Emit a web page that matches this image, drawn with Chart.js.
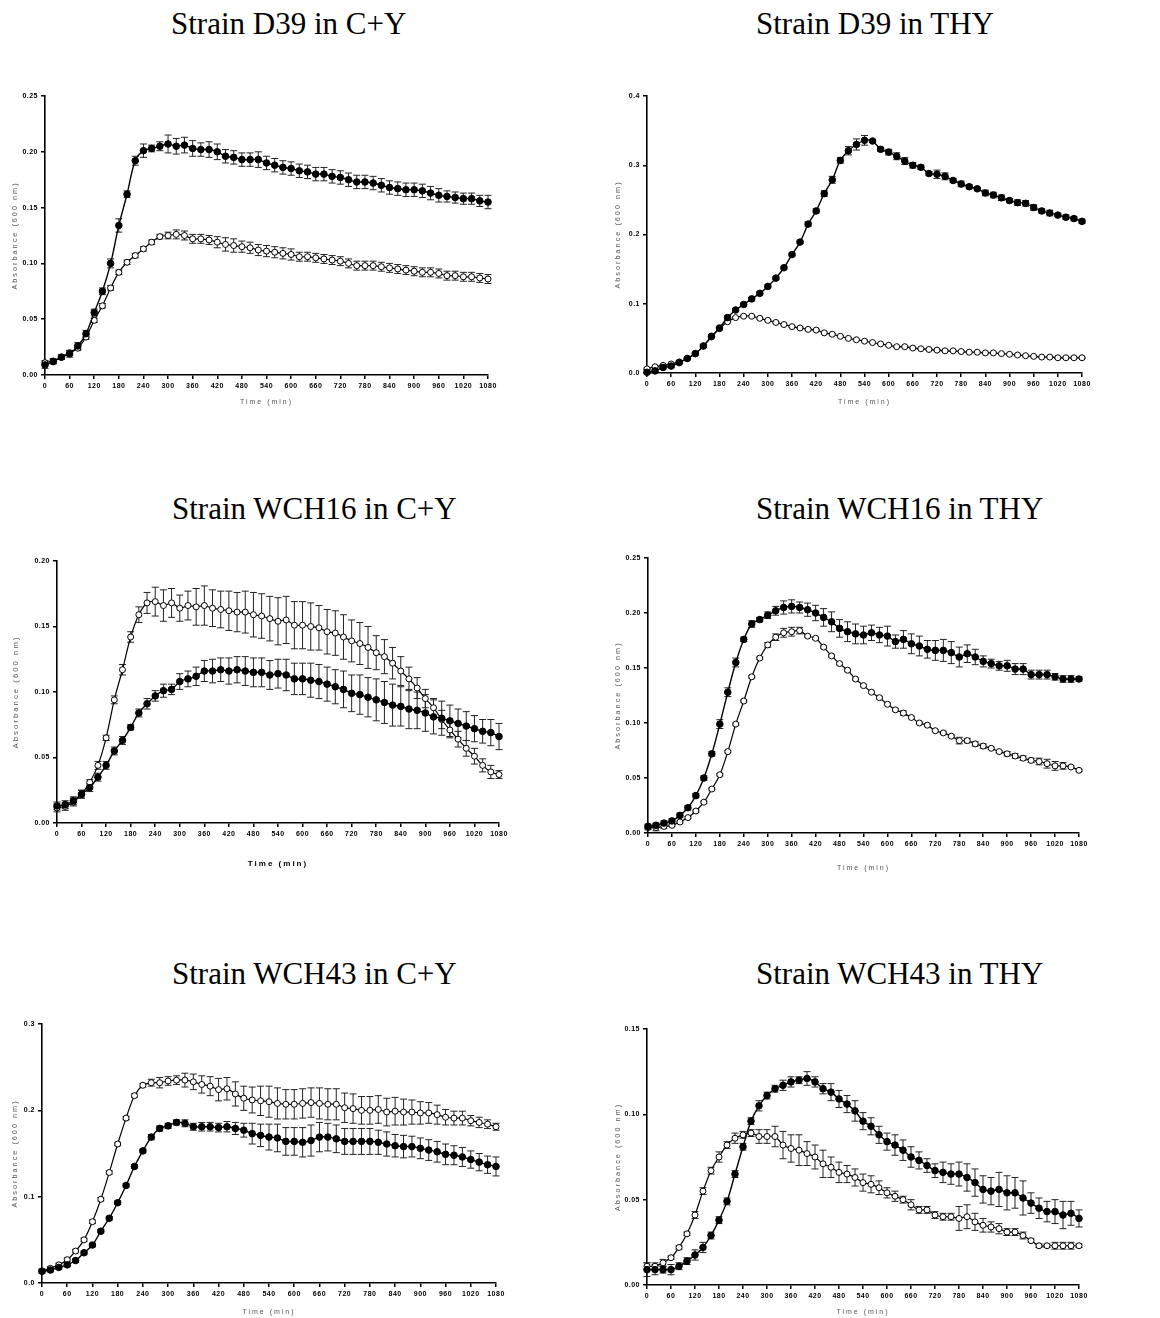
<html>
<head>
<script src="https://cdn.jsdelivr.net/npm/chart.js@4/dist/chart.umd.min.js"></script>
<style>
    body { margin: 0; background: #fff; width: 1160px; height: 1318px; position: relative; overflow: hidden; }
    .title { position: absolute; font-family: "Liberation Serif", "Times New Roman", serif; font-size: 31px; line-height: 31px; color: #000; white-space: nowrap; }
    canvas { position: absolute; }
</style>
</head>
<body>

<div class="title" style="left:171px; top:8px">Strain D39 in C+Y</div>
<div class="title" style="left:756px; top:8px">Strain D39 in THY</div>
<div class="title" style="left:172px; top:493px">Strain WCH16 in C+Y</div>
<div class="title" style="left:756px; top:493px">Strain WCH16 in THY</div>
<div class="title" style="left:172px; top:958px">Strain WCH43 in C+Y</div>
<div class="title" style="left:756px; top:958px">Strain WCH43 in THY</div>

<canvas id="d39-cy"></canvas>
<canvas id="d39-thy"></canvas>
<canvas id="wch16-cy"></canvas>
<canvas id="wch16-thy"></canvas>
<canvas id="wch43-cy"></canvas>
<canvas id="wch43-thy"></canvas>

<script>
// time points (min), one reading every 20 min
var timeMin = [
    0, 20, 40, 60, 80, 100, 120, 140, 160, 180, 200,
    220, 240, 260, 280, 300, 320, 340, 360, 380, 400, 420,
    440, 460, 480, 500, 520, 540, 560, 580, 600, 620, 640,
    660, 680, 700, 720, 740, 760, 780, 800, 820, 840, 860,
    880, 900, 920, 940, 960, 980, 1000, 1020, 1040, 1060, 1080
];

// D39 in C+Y
var d39CyFilled = [
    0.009, 0.012, 0.016, 0.019, 0.026, 0.037, 0.056, 0.075, 0.100, 0.134, 0.162,
    0.192, 0.201, 0.203, 0.205, 0.207, 0.205, 0.206, 0.203, 0.202, 0.202, 0.200,
    0.196, 0.195, 0.193, 0.193, 0.193, 0.190, 0.188, 0.186, 0.185, 0.183, 0.182,
    0.180, 0.180, 0.178, 0.177, 0.175, 0.173, 0.173, 0.172, 0.170, 0.168, 0.167,
    0.166, 0.166, 0.165, 0.163, 0.161, 0.160, 0.159, 0.158, 0.158, 0.156, 0.155
];
var d39CyFilledErr = [
    0.003, 0.002, 0.002, 0.003, 0.003, 0.003, 0.003, 0.003, 0.004, 0.006, 0.003,
    0.004, 0.006, 0.003, 0.004, 0.008, 0.007, 0.007, 0.007, 0.006, 0.007, 0.007,
    0.006, 0.006, 0.006, 0.006, 0.007, 0.006, 0.006, 0.006, 0.006, 0.006, 0.006,
    0.006, 0.006, 0.006, 0.006, 0.006, 0.006, 0.006, 0.006, 0.006, 0.006, 0.006,
    0.006, 0.006, 0.006, 0.006, 0.006, 0.005, 0.005, 0.005, 0.005, 0.005, 0.006
];
var d39CyOpen = [
    0.011, 0.0125, 0.016, 0.020, 0.024, 0.034, 0.049, 0.062, 0.078, 0.092, 0.101,
    0.107, 0.113, 0.119, 0.124, 0.125, 0.126, 0.125, 0.122, 0.122, 0.121, 0.119,
    0.117, 0.116, 0.115, 0.114, 0.112, 0.111, 0.110, 0.109, 0.108, 0.106, 0.106,
    0.105, 0.104, 0.103, 0.102, 0.100, 0.098, 0.098, 0.098, 0.097, 0.096, 0.095,
    0.094, 0.093, 0.092, 0.092, 0.091, 0.089, 0.089, 0.088, 0.088, 0.087, 0.086
];
var d39CyOpenErr = [
    0.002, 0.002, 0.002, 0.002, 0.002, 0.002, 0.002, 0.002, 0.002, 0.002, 0.002,
    0.002, 0.002, 0.002, 0.002, 0.003, 0.004, 0.004, 0.004, 0.004, 0.004, 0.005,
    0.006, 0.006, 0.005, 0.005, 0.005, 0.005, 0.005, 0.005, 0.005, 0.004, 0.004,
    0.004, 0.004, 0.004, 0.004, 0.004, 0.004, 0.004, 0.004, 0.004, 0.004, 0.004,
    0.004, 0.004, 0.004, 0.004, 0.004, 0.004, 0.004, 0.004, 0.004, 0.004, 0.004
];

// D39 in THY
var d39ThyFilled = [
    0.001, 0.003, 0.008, 0.010, 0.015, 0.021, 0.028, 0.039, 0.053, 0.065, 0.080,
    0.091, 0.099, 0.107, 0.115, 0.125, 0.137, 0.152, 0.171, 0.189, 0.215, 0.234,
    0.259, 0.279, 0.307, 0.321, 0.330, 0.336, 0.335, 0.323, 0.319, 0.313, 0.306,
    0.300, 0.297, 0.288, 0.287, 0.284, 0.278, 0.273, 0.269, 0.266, 0.260, 0.257,
    0.253, 0.249, 0.246, 0.245, 0.239, 0.234, 0.231, 0.228, 0.225, 0.223, 0.219
];
var d39ThyFilledErr = [
    0.002, 0.002, 0.002, 0.002, 0.002, 0.002, 0.002, 0.002, 0.002, 0.002, 0.002,
    0.002, 0.002, 0.002, 0.002, 0.002, 0.002, 0.002, 0.002, 0.002, 0.003, 0.003,
    0.004, 0.005, 0.004, 0.006, 0.008, 0.007, 0.002, 0.003, 0.004, 0.005, 0.005,
    0.004, 0.003, 0.003, 0.006, 0.005, 0.003, 0.004, 0.003, 0.002, 0.004, 0.004,
    0.004, 0.003, 0.004, 0.004, 0.004, 0.003, 0.004, 0.002, 0.003, 0.003, 0.003
];
var d39ThyOpen = [
    0.006, 0.009, 0.011, 0.013, 0.016, 0.021, 0.028, 0.039, 0.052, 0.064, 0.074,
    0.080, 0.082, 0.082, 0.079, 0.076, 0.073, 0.070, 0.067, 0.065, 0.063, 0.062,
    0.058, 0.056, 0.053, 0.050, 0.048, 0.046, 0.044, 0.042, 0.040, 0.038, 0.038,
    0.036, 0.035, 0.034, 0.033, 0.032, 0.032, 0.031, 0.030, 0.030, 0.029, 0.029,
    0.028, 0.027, 0.026, 0.025, 0.024, 0.023, 0.023, 0.022, 0.022, 0.022, 0.022
];
var d39ThyOpenErr = [
    0.001, 0.001, 0.001, 0.001, 0.001, 0.001, 0.001, 0.001, 0.001, 0.001, 0.001,
    0.001, 0.001, 0.001, 0.001, 0.001, 0.001, 0.001, 0.001, 0.001, 0.001, 0.001,
    0.001, 0.001, 0.001, 0.001, 0.001, 0.001, 0.001, 0.001, 0.001, 0.001, 0.001,
    0.001, 0.001, 0.001, 0.001, 0.001, 0.001, 0.001, 0.001, 0.001, 0.001, 0.001,
    0.001, 0.001, 0.001, 0.001, 0.001, 0.001, 0.001, 0.001, 0.001, 0.001, 0.001
];

// WCH16 in C+Y
var wch16CyFilled = [
    0.013, 0.014, 0.017, 0.022, 0.027, 0.035, 0.044, 0.055, 0.063, 0.073, 0.084,
    0.091, 0.097, 0.101, 0.102, 0.108, 0.110, 0.112, 0.116, 0.116, 0.117, 0.116,
    0.117, 0.116, 0.115, 0.115, 0.113, 0.114, 0.113, 0.110, 0.110, 0.109, 0.108,
    0.106, 0.104, 0.102, 0.099, 0.098, 0.096, 0.094, 0.092, 0.090, 0.089, 0.087,
    0.086, 0.084, 0.081, 0.080, 0.078, 0.076, 0.074, 0.072, 0.070, 0.069, 0.066
];
var wch16CyFilledErr = [
    0.003, 0.003, 0.003, 0.003, 0.003, 0.003, 0.003, 0.003, 0.003, 0.002, 0.003,
    0.004, 0.004, 0.005, 0.004, 0.006, 0.006, 0.007, 0.008, 0.009, 0.009, 0.010,
    0.010, 0.011, 0.011, 0.011, 0.011, 0.011, 0.012, 0.012, 0.012, 0.013, 0.013,
    0.013, 0.013, 0.014, 0.014, 0.015, 0.015, 0.016, 0.016, 0.016, 0.015, 0.015,
    0.014, 0.014, 0.013, 0.013, 0.012, 0.011, 0.011, 0.010, 0.009, 0.010, 0.010
];
var wch16CyOpen = [
    0.0115, 0.0127, 0.016, 0.022, 0.031, 0.044, 0.065, 0.094, 0.117, 0.142, 0.159,
    0.168, 0.169, 0.166, 0.168, 0.164, 0.166, 0.165, 0.166, 0.164, 0.163, 0.162,
    0.161, 0.161, 0.159, 0.158, 0.156, 0.154, 0.155, 0.151, 0.151, 0.150, 0.149,
    0.146, 0.145, 0.142, 0.139, 0.137, 0.134, 0.130, 0.127, 0.122, 0.116, 0.110,
    0.103, 0.095, 0.088, 0.079, 0.071, 0.064, 0.057, 0.051, 0.044, 0.039, 0.037
];
var wch16CyOpenErr = [
    0.003, 0.003, 0.003, 0.003, 0.002, 0.003, 0.002, 0.003, 0.004, 0.004, 0.006,
    0.008, 0.011, 0.012, 0.011, 0.010, 0.011, 0.014, 0.015, 0.014, 0.014, 0.015,
    0.015, 0.016, 0.017, 0.017, 0.017, 0.018, 0.018, 0.018, 0.018, 0.018, 0.017,
    0.017, 0.017, 0.017, 0.016, 0.016, 0.016, 0.013, 0.013, 0.012, 0.011, 0.009,
    0.008, 0.007, 0.007, 0.007, 0.006, 0.006, 0.006, 0.006, 0.005, 0.005, 0.003
];

// WCH16 in THY
var wch16ThyFilled = [
    0.006, 0.007, 0.009, 0.011, 0.016, 0.023, 0.034, 0.050, 0.072, 0.099, 0.128,
    0.155, 0.176, 0.190, 0.194, 0.198, 0.202, 0.205, 0.206, 0.205, 0.203, 0.200,
    0.196, 0.192, 0.186, 0.183, 0.181, 0.180, 0.182, 0.180, 0.179, 0.174, 0.176,
    0.172, 0.170, 0.167, 0.166, 0.166, 0.164, 0.160, 0.163, 0.160, 0.156, 0.154,
    0.152, 0.152, 0.149, 0.149, 0.144, 0.144, 0.144, 0.142, 0.140, 0.140, 0.140
];
var wch16ThyFilledErr = [
    0.002, 0.002, 0.002, 0.002, 0.002, 0.002, 0.002, 0.002, 0.002, 0.004, 0.004,
    0.004, 0.002, 0.003, 0.002, 0.003, 0.004, 0.006, 0.006, 0.005, 0.006, 0.007,
    0.008, 0.009, 0.008, 0.009, 0.009, 0.008, 0.007, 0.007, 0.009, 0.006, 0.008,
    0.009, 0.009, 0.008, 0.009, 0.010, 0.010, 0.009, 0.008, 0.007, 0.005, 0.004,
    0.004, 0.005, 0.005, 0.005, 0.004, 0.004, 0.004, 0.003, 0.003, 0.003, 0.002
];
var wch16ThyOpen = [
    0.005, 0.005, 0.006, 0.007, 0.010, 0.014, 0.020, 0.028, 0.040, 0.053, 0.074,
    0.099, 0.120, 0.142, 0.159, 0.171, 0.178, 0.182, 0.183, 0.184, 0.179, 0.177,
    0.169, 0.161, 0.154, 0.148, 0.140, 0.134, 0.128, 0.123, 0.117, 0.112, 0.109,
    0.105, 0.100, 0.098, 0.093, 0.091, 0.088, 0.084, 0.084, 0.081, 0.079, 0.077,
    0.074, 0.072, 0.070, 0.068, 0.066, 0.065, 0.063, 0.061, 0.061, 0.060, 0.057
];
var wch16ThyOpenErr = [
    0.002, 0.003, 0.002, 0.001, 0.001, 0.001, 0.001, 0.001, 0.001, 0.001, 0.001,
    0.001, 0.001, 0.001, 0.001, 0.002, 0.003, 0.004, 0.004, 0.003, 0.001, 0.001,
    0.001, 0.001, 0.001, 0.001, 0.001, 0.001, 0.001, 0.001, 0.001, 0.001, 0.002,
    0.001, 0.001, 0.001, 0.001, 0.001, 0.001, 0.003, 0.002, 0.002, 0.002, 0.001,
    0.001, 0.002, 0.002, 0.002, 0.002, 0.003, 0.004, 0.004, 0.003, 0.001, 0.001
];

// WCH43 in C+Y
var wch43CyFilled = [
    0.0135, 0.015, 0.018, 0.021, 0.026, 0.035, 0.044, 0.060, 0.075, 0.093, 0.113,
    0.135, 0.153, 0.169, 0.179, 0.182, 0.186, 0.185, 0.181, 0.181, 0.181, 0.180,
    0.181, 0.179, 0.177, 0.173, 0.171, 0.169, 0.168, 0.164, 0.164, 0.163, 0.165,
    0.169, 0.169, 0.167, 0.164, 0.164, 0.164, 0.164, 0.163, 0.161, 0.159, 0.158,
    0.158, 0.156, 0.154, 0.152, 0.149, 0.148, 0.146, 0.143, 0.140, 0.137, 0.135
];
var wch43CyFilledErr = [
    0.002, 0.002, 0.002, 0.002, 0.002, 0.002, 0.002, 0.002, 0.002, 0.002, 0.002,
    0.002, 0.002, 0.003, 0.003, 0.003, 0.003, 0.004, 0.004, 0.005, 0.005, 0.005,
    0.006, 0.007, 0.008, 0.012, 0.013, 0.015, 0.016, 0.016, 0.016, 0.017, 0.018,
    0.017, 0.016, 0.016, 0.015, 0.015, 0.015, 0.015, 0.014, 0.014, 0.013, 0.013,
    0.012, 0.012, 0.012, 0.012, 0.012, 0.011, 0.011, 0.010, 0.010, 0.010, 0.011
];
var wch43CyOpen = [
    0.014, 0.017, 0.021, 0.027, 0.037, 0.050, 0.071, 0.097, 0.128, 0.161, 0.191,
    0.217, 0.229, 0.232, 0.232, 0.234, 0.235, 0.235, 0.233, 0.230, 0.228, 0.224,
    0.225, 0.219, 0.214, 0.212, 0.211, 0.210, 0.208, 0.207, 0.207, 0.208, 0.209,
    0.208, 0.207, 0.207, 0.203, 0.202, 0.200, 0.200, 0.201, 0.198, 0.199, 0.198,
    0.198, 0.197, 0.197, 0.195, 0.192, 0.191, 0.191, 0.188, 0.186, 0.184, 0.181
];
var wch43CyOpenErr = [
    0.002, 0.002, 0.002, 0.002, 0.002, 0.002, 0.002, 0.002, 0.002, 0.002, 0.002,
    0.002, 0.002, 0.004, 0.006, 0.005, 0.005, 0.008, 0.009, 0.010, 0.011, 0.013,
    0.013, 0.014, 0.014, 0.015, 0.017, 0.018, 0.018, 0.017, 0.017, 0.017, 0.017,
    0.018, 0.018, 0.018, 0.017, 0.017, 0.016, 0.016, 0.016, 0.016, 0.016, 0.015,
    0.014, 0.013, 0.012, 0.011, 0.009, 0.008, 0.008, 0.006, 0.006, 0.005, 0.004
];

// WCH43 in THY
var wch43ThyFilled = [
    0.009, 0.009, 0.009, 0.009, 0.011, 0.014, 0.0176, 0.022, 0.029, 0.038, 0.049,
    0.065, 0.081, 0.096, 0.105, 0.111, 0.115, 0.117, 0.119, 0.120, 0.121, 0.119,
    0.115, 0.113, 0.109, 0.106, 0.102, 0.096, 0.093, 0.088, 0.084, 0.082, 0.079,
    0.075, 0.073, 0.070, 0.067, 0.066, 0.065, 0.065, 0.063, 0.060, 0.056, 0.055,
    0.056, 0.054, 0.054, 0.051, 0.048, 0.045, 0.043, 0.043, 0.041, 0.042, 0.039
];
var wch43ThyFilledErr = [
    0.004, 0.003, 0.002, 0.003, 0.002, 0.002, 0.003, 0.003, 0.002, 0.002, 0.002,
    0.002, 0.002, 0.002, 0.003, 0.002, 0.002, 0.003, 0.003, 0.002, 0.004, 0.003,
    0.003, 0.005, 0.005, 0.005, 0.006, 0.005, 0.005, 0.005, 0.005, 0.006, 0.006,
    0.006, 0.005, 0.004, 0.004, 0.006, 0.006, 0.007, 0.008, 0.008, 0.008, 0.008,
    0.010, 0.010, 0.009, 0.010, 0.006, 0.006, 0.006, 0.007, 0.008, 0.007, 0.005
];
var wch43ThyOpen = [
    0.011, 0.011, 0.013, 0.016, 0.022, 0.030, 0.041, 0.055, 0.067, 0.075, 0.082,
    0.086, 0.088, 0.089, 0.087, 0.087, 0.087, 0.082, 0.080, 0.079, 0.077, 0.075,
    0.071, 0.069, 0.066, 0.065, 0.063, 0.060, 0.059, 0.057, 0.054, 0.052, 0.050,
    0.047, 0.044, 0.044, 0.041, 0.040, 0.040, 0.039, 0.040, 0.037, 0.035, 0.034,
    0.033, 0.031, 0.031, 0.029, 0.026, 0.023, 0.023, 0.023, 0.023, 0.023, 0.023
];
var wch43ThyOpenErr = [
    0.002, 0.002, 0.002, 0.001, 0.001, 0.001, 0.002, 0.002, 0.002, 0.003, 0.002,
    0.003, 0.002, 0.002, 0.004, 0.004, 0.006, 0.008, 0.008, 0.009, 0.007, 0.007,
    0.008, 0.006, 0.006, 0.005, 0.005, 0.005, 0.005, 0.004, 0.003, 0.003, 0.002,
    0.003, 0.002, 0.002, 0.002, 0.002, 0.002, 0.007, 0.007, 0.005, 0.004, 0.003,
    0.003, 0.002, 0.002, 0.002, 0.001, 0.001, 0.001, 0.002, 0.002, 0.002, 0.001
];


// draws +/- error bars for every dataset that carries an "errors" array
var errorBarPlugin = {
    id: 'errorBars',
    beforeDatasetsDraw: function(chart) {
        var ctx = chart.ctx;
        var yScale = chart.scales.y;
        chart.data.datasets.forEach(function(ds, di) {
            if (!ds.errors) return;
            var meta = chart.getDatasetMeta(di);
            ctx.save();
            ctx.strokeStyle = '#222';
            ctx.lineWidth = 1;
            meta.data.forEach(function(pt, i) {
                var v = ds.data[i].y, e = ds.errors[i];
                var top = yScale.getPixelForValue(v + e);
                var bot = yScale.getPixelForValue(v - e);
                ctx.beginPath();
                ctx.moveTo(pt.x, top); ctx.lineTo(pt.x, bot);
                ctx.moveTo(pt.x - 3.5, top); ctx.lineTo(pt.x + 3.5, top);
                ctx.moveTo(pt.x - 3.5, bot); ctx.lineTo(pt.x + 3.5, bot);
                ctx.stroke();
            });
            ctx.restore();
        });
    }
};

// spaced-out lettering like the original figure
var spacingPlugin = {
    id: 'spacing',
    beforeDraw: function(chart) {
        chart.ctx.letterSpacing = '0.5px';
        Object.keys(chart.scales).forEach(function(k) {
            var s = chart.scales[k];
            if (s._spaced) return;
            var orig = s.drawTitle;
            s.drawTitle = function() {
                var prev = this.ctx.letterSpacing;
                this.ctx.letterSpacing = '2px';
                orig.apply(this, arguments);
                this.ctx.letterSpacing = prev;
            };
            s._spaced = true;
        });
    },
    afterDraw: function(chart) {
        chart.ctx.letterSpacing = '0px';
    }
};

function ToPoints(values) {
    var pts = [];
    for (var i = 0; i < timeMin.length; i++) {
        pts.push({x: timeMin[i], y: values[i]});
    }
    return pts;
}

// box: plot area (L,T,R,B) + centre of y title (yTitleX) + centre of x title (xTitleY)
function SetGrowthChart(id, box, yMax, yStep, yDec, filled, filledErr, open, openErr, big) {
    var yFontSize = big ? 7.8 : 7.3;
    var xTitleFont = big ? {family: 'Liberation Sans', size: 8, weight: 'bold'} : {family: 'Liberation Sans', size: 7};
    var xColor = big ? '#000' : '#555';
    var yLH = yFontSize * 1.2;
    var xLH = xTitleFont.size * 1.2;

    var left = Math.round(box.yTitleX - yLH / 2);
    var top = Math.round(box.T) - 8;
    var right = Math.round(box.R) + 20;
    var bottom = Math.round(box.xTitleY + xLH / 2);
    var yWidth = Math.round(box.L) - left;
    var xHeight = bottom - Math.round(box.B);

    var canvas = document.getElementById(id);
    canvas.width = right - left;
    canvas.height = bottom - top;
    canvas.style.left = left + 'px';
    canvas.style.top = top + 'px';

    var tickFont = {family: 'Liberation Sans', size: 7, weight: 'bold'};

    new Chart(canvas.getContext('2d'), {
        type: 'line',
        data: {
            datasets: [{
                label: 'filled',
                data: ToPoints(filled),
                errors: filledErr,
                borderColor: '#000',
                borderWidth: 1.4,
                tension: 0.35,
                pointRadius: 3.3,
                pointBackgroundColor: '#000',
                pointBorderColor: '#000',
                pointBorderWidth: 1,
                clip: false
            }, {
                label: 'open',
                data: ToPoints(open),
                errors: openErr,
                borderColor: '#000',
                borderWidth: 1.2,
                tension: 0.35,
                pointRadius: 3,
                pointBackgroundColor: '#fff',
                pointBorderColor: '#000',
                pointBorderWidth: 1,
                clip: false
            }]
        },
        options: {
            responsive: false,
            animation: false,
            events: [],
            layout: {padding: {left: 0, top: 8, right: 20, bottom: 0}},
            plugins: {legend: {display: false}, tooltip: {enabled: false}},
            scales: {
                x: {
                    type: 'linear',
                    min: 0,
                    max: 1080,
                    ticks: {
                        stepSize: 60, autoSkip: false, maxRotation: 0, color: '#000', font: tickFont, padding: 3,
                        callback: function(v) { return String(v); }
                    },
                    grid: {drawOnChartArea: false, drawTicks: true, tickLength: 4, color: '#000', lineWidth: 1.5},
                    border: {color: '#000', width: 1.6},
                    title: {display: true, text: 'Time (min)', color: xColor, font: xTitleFont, padding: 0},
                    afterFit: function(s) { s.height = xHeight; s.paddingLeft = 0; s.paddingRight = 0; }
                },
                y: {
                    min: 0,
                    max: yMax,
                    ticks: {
                        stepSize: yStep, color: '#000', font: tickFont, padding: 3,
                        callback: function(v) { return v.toFixed(yDec); }
                    },
                    grid: {drawOnChartArea: false, drawTicks: true, tickLength: 4, color: '#000', lineWidth: 1.5},
                    border: {color: '#000', width: 1.6},
                    title: {display: true, text: 'Absorbance (600 nm)', color: '#555', font: {family: 'Liberation Sans', size: yFontSize}, padding: 0},
                    afterFit: function(s) { s.width = yWidth; s.paddingTop = 0; s.paddingBottom = 0; }
                }
            }
        },
        plugins: [errorBarPlugin, spacingPlugin]
    });
}

SetGrowthChart('d39-cy', {L: 45, T: 96, R: 488, B: 375, yTitleX: 15, xTitleY: 402},
    0.25, 0.05, 2, d39CyFilled, d39CyFilledErr, d39CyOpen, d39CyOpenErr, false);
SetGrowthChart('d39-thy', {L: 647, T: 96, R: 1082, B: 373, yTitleX: 618, xTitleY: 402},
    0.4, 0.1, 1, d39ThyFilled, d39ThyFilledErr, d39ThyOpen, d39ThyOpenErr, false);
SetGrowthChart('wch16-cy', {L: 57, T: 561, R: 499, B: 823, yTitleX: 16, xTitleY: 864},
    0.20, 0.05, 2, wch16CyFilled, wch16CyFilledErr, wch16CyOpen, wch16CyOpenErr, true);
SetGrowthChart('wch16-thy', {L: 648, T: 558, R: 1079, B: 833, yTitleX: 618, xTitleY: 868},
    0.25, 0.05, 2, wch16ThyFilled, wch16ThyFilledErr, wch16ThyOpen, wch16ThyOpenErr, false);
SetGrowthChart('wch43-cy', {L: 42, T: 1024, R: 496, B: 1283, yTitleX: 15, xTitleY: 1312},
    0.3, 0.1, 1, wch43CyFilled, wch43CyFilledErr, wch43CyOpen, wch43CyOpenErr, false);
SetGrowthChart('wch43-thy', {L: 647, T: 1029, R: 1079, B: 1285, yTitleX: 618, xTitleY: 1312},
    0.15, 0.05, 2, wch43ThyFilled, wch43ThyFilledErr, wch43ThyOpen, wch43ThyOpenErr, false);
</script>
</body>
</html>
